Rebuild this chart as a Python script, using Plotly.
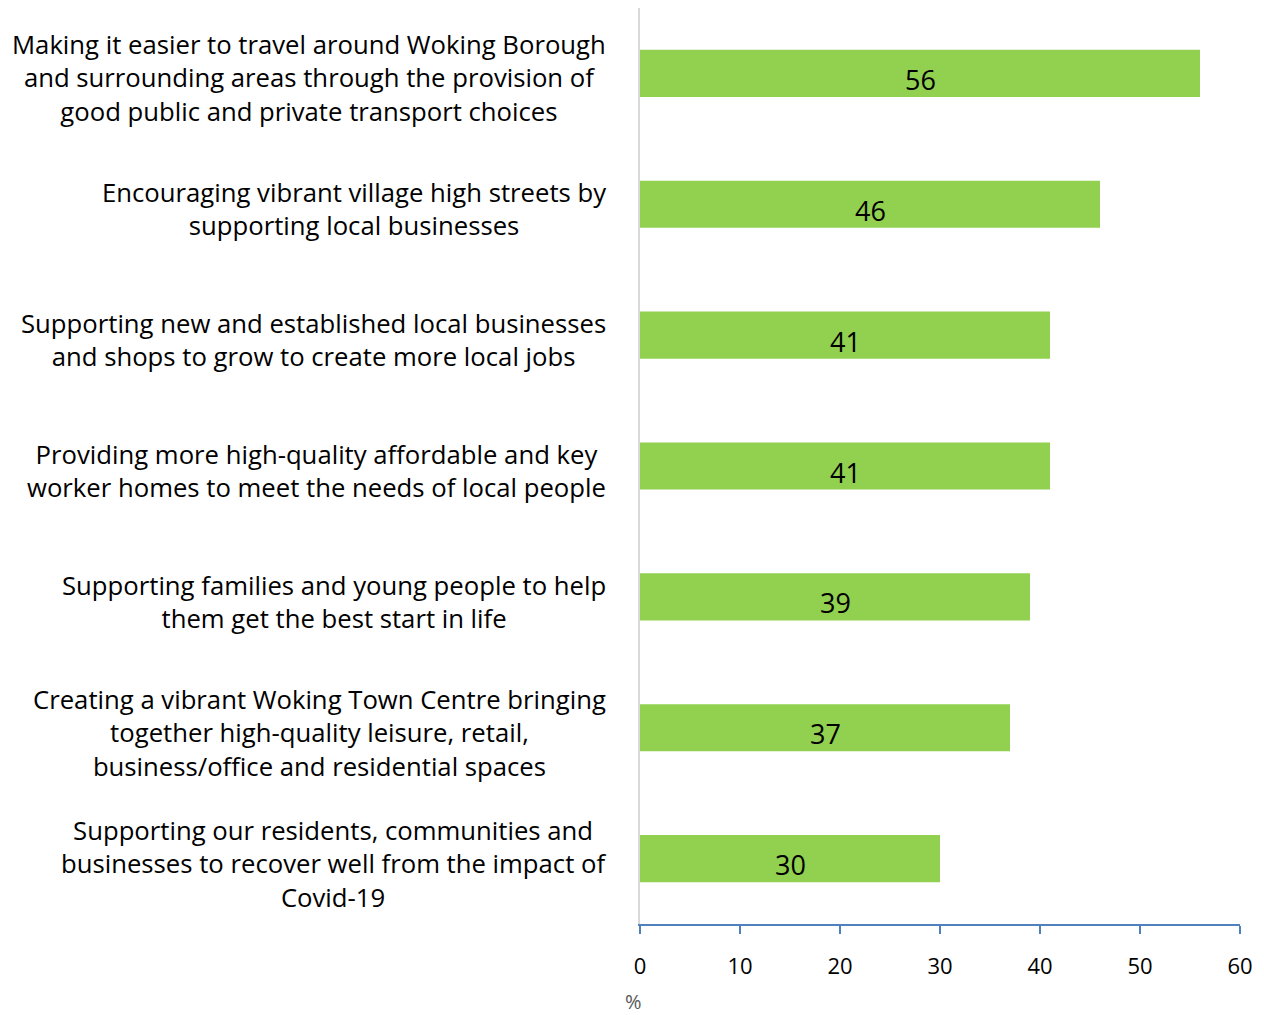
import plotly.graph_objects as go

# Survey priorities and share of respondents selecting each (%)
priorities = [
    "Making it easier to travel around Woking Borough<br>and surrounding areas through the provision of<br>good public and private transport choices",
    "Encouraging vibrant village high streets by<br>supporting local businesses",
    "Supporting new and established local businesses<br>and shops to grow to create more local jobs",
    "Providing more high-quality affordable and key<br>worker homes to meet the needs of local people",
    "Supporting families and young people to help<br>them get the best start in life",
    "Creating a vibrant Woking Town Centre bringing<br>together high-quality leisure, retail,<br>business/office and residential spaces",
    "Supporting our residents, communities and<br>businesses to recover well from the impact of<br>Covid-19",
]
percent = [56, 46, 41, 41, 39, 37, 30]
x_ticks = [0, 10, 20, 30, 40, 50, 60]

FONT = "Open Sans"
cat_ids = [f"p{i}" for i in range(len(priorities))]

fig = go.Figure(
    go.Bar(
        x=percent,
        y=cat_ids,
        orientation="h",
        marker=dict(color="#92D050", line=dict(width=0)),
        hoverinfo="skip",
    )
)

# Value labels centred in each bar, sitting slightly low as in the source chart
for cid, v in zip(cat_ids, percent):
    fig.add_annotation(
        x=v / 2, xref="x", xanchor="center",
        y=cid, yref="y", yanchor="middle", yshift=-6,
        text=str(v), showarrow=False,
        font=dict(family=FONT, size=27, color="#000000"),
    )

# Category labels as centred multi-line blocks to the left of the axis
for cid, label in zip(cat_ids, priorities):
    fig.add_annotation(
        x=-0.053, xref="paper", xanchor="right",
        y=cid, yref="y", yanchor="middle", yshift=-5,
        text=label, align="center", showarrow=False,
        font=dict(family=FONT, size=25.7, color="#000000"),
    )

fig.add_annotation(
    x=-0.011, xref="paper", xanchor="center",
    y=-0.085, yref="paper", yanchor="middle",
    text="%", showarrow=False,
    font=dict(family=FONT, size=20, color="#595959"),
)

fig.update_layout(
    width=1264, height=1015,
    margin=dict(l=640, r=24, t=8, b=91),
    plot_bgcolor="white", paper_bgcolor="white",
    showlegend=False,
    bargap=0.64,
    xaxis=dict(
        range=[0, 60], tickvals=x_ticks, ticktext=[str(t) for t in x_ticks],
        showgrid=False, zeroline=False,
        showline=True, linecolor="#4F81BD", linewidth=2,
        ticks="outside", ticklen=8, tickwidth=2, tickcolor="#4F81BD",
        ticklabelstandoff=14,
        tickfont=dict(family=FONT, size=22, color="#000000"),
    ),
    yaxis=dict(
        categoryorder="array", categoryarray=cat_ids, autorange="reversed",
        showticklabels=False, showgrid=False, zeroline=False,
        showline=True, linecolor="#D9D9D9", linewidth=2, ticks="",
    ),
)

fig.write_html("out.html")
